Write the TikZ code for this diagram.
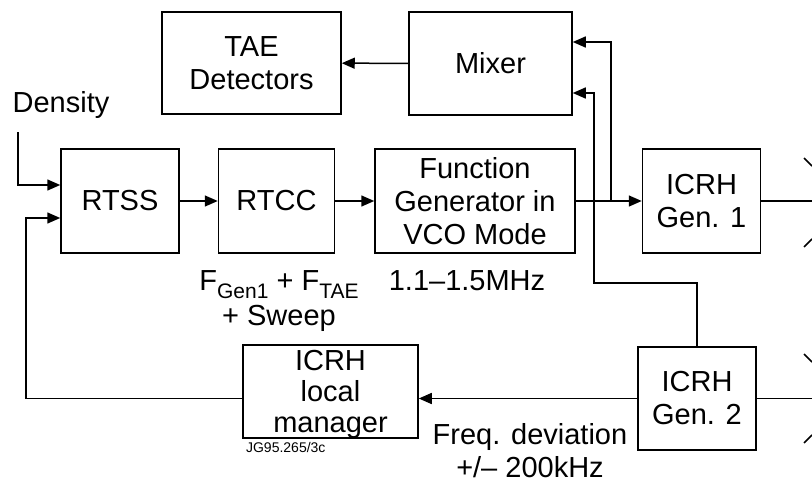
\documentclass[tikz,border=0pt]{standalone}
\usepackage{fontspec}
\setmainfont{Liberation Sans}
\usetikzlibrary{positioning, arrows.meta, calc}
\newcommand{\lowtext}[1]{\raisebox{-0.28em}{\fontsize{21}{21}\selectfont #1}}

\begin{document}
\begin{tikzpicture}[
			x=1pt, y=-1pt,
			line width=1.5pt,
			every node/.style={font=\fontsize{29}{33}\selectfont},
			block/.style={rectangle, draw, minimum height=104pt, inner sep=0pt, align=center},
			sig/.style={-{Triangle[length=13pt,width=11pt]}}
			]
			\useasboundingbox (0,0) rectangle (812,488);
			
			% Upper row
			\node[block, minimum width=179pt, minimum height=102pt] (tae) at (251.5,63) {TAE\\Detectors};
			\node[block, minimum width=163pt, minimum height=103pt] (mixer) at (490.5,63.5) {Mixer};
			
			% Main row
			\node[block, minimum width=118pt] (rtss) at (120,201) {RTSS};
			\node[block, minimum width=116pt, right=38pt of rtss] (rtcc) {RTCC};
			\node[block, minimum width=200pt, right=39pt of rtcc] (fgen) {Function\\Generator in\\VCO Mode};
			\node[block, minimum width=118pt, right=66pt of fgen] (gen1) {ICRH\\Gen. 1};
			
			% Lower row
			\node[block, minimum width=118pt, minimum height=103pt] (gen2) at (697,398.5) {ICRH\\Gen. 2};
			\node[block, minimum width=175pt, minimum height=93pt, text depth=0pt, font=\fontsize{29}{31}\selectfont] (lman) at (330.5,391.5) {ICRH\\local\\manager};
			
			% Labels
			\node (density) at (61,105) {Density};
			\node (freqs) at (279,285) {F\lowtext{Gen1} + F\lowtext{TAE}};
			\node (sweep) at (279,318) {+ Sweep};
			\node (range) at (467,281) {1.1--1.5MHz};
			\node[align=center] (dev) at (530,451) {Freq. deviation\\+/-- 200kHz};
			\node[font=\fontsize{14}{15}\selectfont, anchor=west] (ref) at (242,447) {JG95.265/3c};
			
			% Coordinates
			\coordinate (din) at (18,132);
			\coordinate (fb) at (26,398.5);
			\coordinate (tap) at (611,201);
			\coordinate (bend) at (594,283);
			\coordinate (out1) at (812,201);
			\coordinate (out2) at (812,398.5);
			
			% Arrows
			\draw[sig] (mixer) -- (tae);
			\draw[sig] (rtss) -- (rtcc);
			\draw[sig] (rtcc) -- (fgen);
			\draw[sig] (fgen) -- (gen1);
			\draw[sig] (tap) |- ($(mixer.east)+(0,-21.5)$);
			\draw[sig] (gen2.north) |- (bend) |- ($(mixer.east)+(0,29.5)$);
			\draw[sig] (gen2.west) -- (gen2.west -| lman.east);
			\draw[sig] (lman.west |- gen2.west) -- (fb) |- ($(rtss.west)+(0,17)$);
			\draw[sig] (din) |- ($(rtss.west)+(0,-16)$);
			
			% Outputs
			\draw (gen1) -- (out1);
			\draw (gen2) -- (out2);
			\draw (804,158) -- (812,166);
			\draw (804,247) -- (812,239);
			\draw (804,354) -- (812,362);
			\draw (804,443) -- (812,435);
			
		\end{tikzpicture}
\end{document}
